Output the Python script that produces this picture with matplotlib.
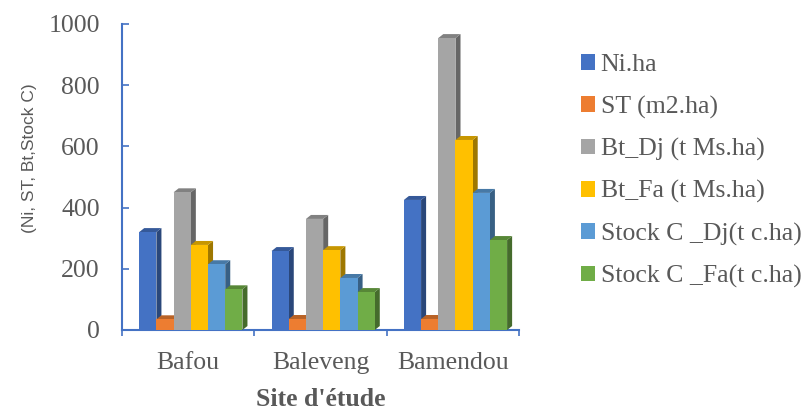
import matplotlib
matplotlib.use("Agg")
import matplotlib.pyplot as plt
from matplotlib.patches import Polygon, Patch
import matplotlib.colors as mcolors
from matplotlib import font_manager
import numpy as np

categories = ["Bafou", "Baleveng", "Bamendou"]
series_names = ["Ni.ha", "ST (m2.ha)", "Bt_Dj (t Ms.ha)", "Bt_Fa (t Ms.ha)",
                "Stock C _Dj(t c.ha)", "Stock C _Fa(t c.ha)"]
ni_ha = [320, 258, 425]
st_m2ha = [35, 36, 36]
bt_dj = [450, 363, 954]
bt_fa = [278, 261, 621]
stock_c_dj = [215, 170, 448]
stock_c_fa = [133, 124, 294]
series_values = [ni_ha, st_m2ha, bt_dj, bt_fa, stock_c_dj, stock_c_fa]
colors = ["#4472C4", "#ED7D31", "#A5A5A5", "#FFC000", "#5B9BD5", "#70AD47"]
yticks = [0, 200, 400, 600, 800, 1000]

names = {f.name for f in font_manager.fontManager.ttflist}
if "Liberation Sans Narrow" in names:
    ylab_family, ylab_size = "Liberation Sans Narrow", 15
else:
    ylab_family, ylab_size = "Liberation Sans", 12.5

W, H = 810, 413
fig = plt.figure(figsize=(W / 100, H / 100), dpi=100)
ax = fig.add_axes([122 / W, 1 - 330 / H, (519 - 122) / W, (330 - 24) / H])
ax.set_xlim(-0.5, 2.5)
ax.set_ylim(0, 1000)

def shade(c, f):
    r, g, b = mcolors.to_rgb(c)
    return (r * f, g * f, b * f)

bw = 0.13
dx = 0.038
dy = 13
x = np.arange(len(categories))
for i, (vals, col) in enumerate(zip(series_values, colors)):
    xs = x - 0.37 + i * bw
    z = 2 + i
    ax.bar(xs, vals, width=bw, align="edge", color=col, zorder=z + 0.5,
           edgecolor="none")
    for x0, v in zip(xs, vals):
        side = Polygon([(x0 + bw, 0), (x0 + bw + dx, dy), (x0 + bw + dx, v + dy),
                        (x0 + bw, v)], closed=True, facecolor=shade(col, 0.62),
                       edgecolor="none", zorder=z)
        top = Polygon([(x0, v), (x0 + dx, v + dy), (x0 + bw + dx, v + dy),
                       (x0 + bw, v)], closed=True, facecolor=shade(col, 0.78),
                      edgecolor="none", zorder=z)
        ax.add_patch(side)
        ax.add_patch(top)

blue = "#4472C4"
gray = "#595959"
for s in ["top", "right"]:
    ax.spines[s].set_visible(False)
for s in ["left", "bottom"]:
    ax.spines[s].set_color(blue)
    ax.spines[s].set_linewidth(1.5)

ax.set_yticks(yticks)
ax.set_yticklabels([str(t) for t in yticks], family="Liberation Serif",
                   fontsize=18.5, color=gray)
ax.tick_params(axis="y", direction="in", length=5, width=1.2, color=blue, pad=16)

ax.set_xticks(x)
ax.set_xticklabels(categories, family="Liberation Serif", fontsize=18.5, color=gray)
ax.set_xticks([-0.5, 0.5, 1.5, 2.5], minor=True)
ax.tick_params(axis="x", which="major", length=0, pad=16)
ax.tick_params(axis="x", which="minor", direction="out", length=4, width=1.2, color=blue)

ax.set_ylabel("(Ni, ST, Bt,Stock C)", family=ylab_family, fontsize=ylab_size,
              color=gray)
ax.yaxis.set_label_coords(-0.215, 0.56)
ax.set_xlabel("Site d'étude", family="Liberation Serif", fontsize=18.5,
              fontweight="bold", color=gray, labelpad=10)

handles = [Patch(facecolor=c, edgecolor="none") for c in colors]
leg = fig.legend(handles, series_names, loc="upper left",
                 bbox_to_anchor=(571 / W, 1 - 44 / H), frameon=False,
                 prop={"family": "Liberation Serif", "size": 18.5},
                 handlelength=0.55, handleheight=0.55, handletextpad=0.2,
                 labelspacing=0.75, borderaxespad=0)
for t in leg.get_texts():
    t.set_color(gray)

fig.savefig("out.png", dpi=100)
